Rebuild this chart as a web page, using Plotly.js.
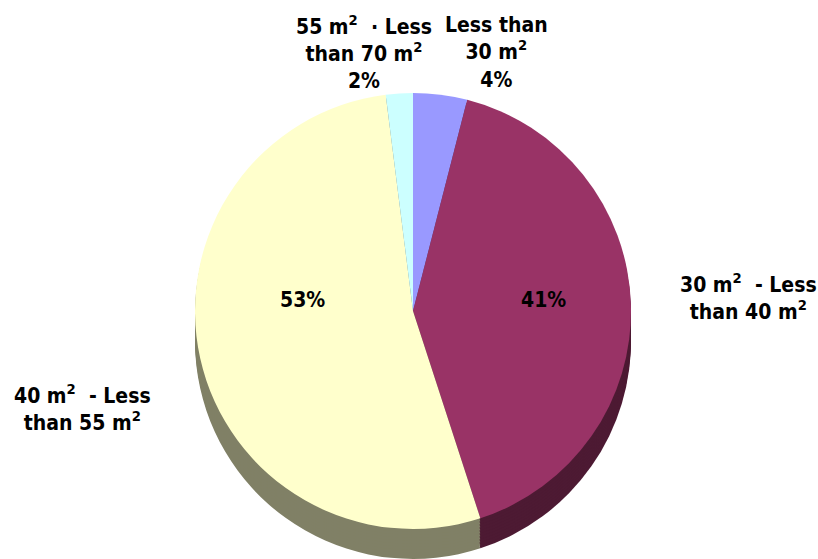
<!DOCTYPE html>
<html>
<head>
<meta charset="utf-8">
<script src="https://cdn.plot.ly/plotly-3.0.1.min.js"></script>
<style>html,body{margin:0;padding:0;background:#fff;}#chart{width:818px;height:559px;}</style>
</head>
<body>
<div id="chart"></div>
<script>
// ---- data ----
var categories = [
  'Less than<br>30 m<sup>2</sup>',
  '30 m<sup>2</sup>  - Less<br>than 40 m<sup>2</sup>',
  '40 m<sup>2</sup>  - Less<br>than 55 m<sup>2</sup>',
  '55 m<sup>2</sup>  \u00b7 Less<br>than 70 m<sup>2</sup>'
];
var values = [4, 41, 53, 2];
var topColors = ['#9999FF', '#993366', '#FFFFCC', '#CCFFFF'];
var sideColors = ['#4D4D80', '#4D1A33', '#808066', '#668080'];
var insideShown = [false, true, true, false];

// ---- geometry helpers (layout only) ----
var W = 818, H = 559;
var CX = 413, CY = 311, R = 218, DEPTH = 30;
function dom(cx, cy, r) {
  return {x: [(cx - r) / W, (cx + r) / W], y: [Math.max(0, (H - cy - r) / H), Math.min(1, (H - cy + r) / H)]};
}

var FONT = '"DejaVu Sans Condensed", "DejaVu Sans", sans-serif';
var traces = [];
for (var d = DEPTH; d > 0; d -= 3) {
  traces.push({
    type: 'pie', values: values, labels: categories, sort: false,
    direction: 'clockwise', rotation: 0,
    marker: {colors: sideColors, line: {width: 0}},
    textinfo: 'none', hoverinfo: 'skip', domain: dom(CX, CY + d, R),
    automargin: false
  });
}
traces.push({
  type: 'pie', values: values, labels: categories, sort: false,
  direction: 'clockwise', rotation: 0,
  marker: {colors: topColors, line: {width: 0}},
  textinfo: 'none',
  hoverinfo: 'label+percent', domain: dom(CX, CY, R), automargin: false
});

// label placements (pixels, converted to paper coords)
var labelPos = [
  {x: 496, y: 52},
  {x: 748, y: 296},
  {x: 82, y: 407},
  {x: 364, y: 52}
];
var insidePos = [null, {x: 543, y: 300}, {x: 302, y: 300}, null];
var total = values.reduce(function (a, b) { return a + b; }, 0);
function pct(i) { return Math.round(values[i] / total * 100) + '%'; }
var labelFont = {family: FONT, size: 21, color: '#000', weight: 'bold'};
var annotations = [];
categories.forEach(function (c, i) {
  annotations.push({
    text: c + (insideShown[i] ? '' : '<br>' + pct(i)), xref: 'paper', yref: 'paper',
    x: labelPos[i].x / W, y: (H - labelPos[i].y) / H,
    xanchor: 'center', yanchor: 'middle', showarrow: false, align: 'center',
    font: labelFont
  });
  if (insideShown[i]) {
    annotations.push({
      text: pct(i), xref: 'paper', yref: 'paper',
      x: insidePos[i].x / W, y: (H - insidePos[i].y) / H,
      xanchor: 'center', yanchor: 'middle', showarrow: false,
      font: labelFont
    });
  }
});

Plotly.newPlot('chart', traces, {
  width: W, height: H, margin: {l: 0, r: 0, t: 0, b: 0},
  paper_bgcolor: '#fff', plot_bgcolor: '#fff', showlegend: false,
  annotations: annotations
}, {displayModeBar: false, staticPlot: true});
</script>
</body>
</html>
